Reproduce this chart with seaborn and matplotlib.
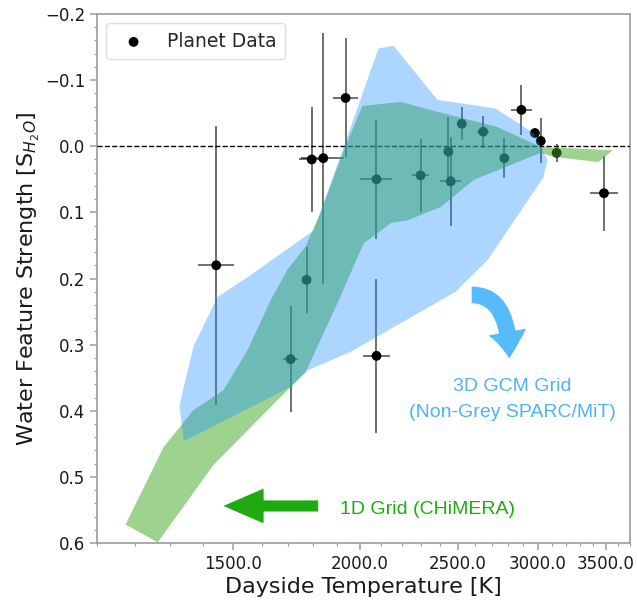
import numpy as np
import pandas as pd
import matplotlib
matplotlib.use("Agg")
import matplotlib.pyplot as plt
import seaborn as sns
from matplotlib.patches import FancyArrowPatch
from matplotlib.ticker import MultipleLocator, AutoMinorLocator, NullFormatter

# ---------------- data ----------------
temps = [1443, 1709, 1772, 1793, 1841, 1937, 2078, 2078, 2297, 2447, 2460,
         2523, 2649, 2780, 2890, 2980, 3020, 3131, 3487]
strength = [0.180, 0.322, 0.202, 0.020, 0.018, -0.073, 0.050, 0.317, 0.044,
            0.008, 0.053, -0.034, -0.022, 0.018, -0.055, -0.020, -0.008,
            0.010, 0.071]
strength_err = [0.211, 0.080, 0.050, 0.080, 0.190, 0.090, 0.090, 0.116, 0.055,
                0.052, 0.067, 0.025, 0.024, 0.030, 0.038, 0.008, 0.034,
                0.014, 0.057]
temp_err = [60, 28, 20, 50, 90, 57, 75, 65, 43, 15, 60, 15, 36, 30, 70, 10,
            20, 15, 110]

# 3D GCM grid envelope (upper = top edge, lower = bottom edge)
gcm_upper_T = [1327, 1370, 1447, 1560, 1802, 1837, 1929, 2035, 2088, 2160,
               2388, 2517, 2725, 2971, 3067]
gcm_upper_S = [0.392, 0.303, 0.228, 0.195, 0.127, 0.0915, 0.001, -0.100,
               -0.148, -0.152, -0.070, -0.065, -0.057, -0.020, 0.021]
gcm_lower_T = [1327, 1340, 1709, 1776, 1959, 2488, 2676, 3039, 3067]
gcm_lower_S = [0.392, 0.446, 0.364, 0.339, 0.311, 0.220, 0.172, 0.047, 0.021]

# 1D CHiMERA grid envelope
chimera_upper_T = [1174, 1280, 1370, 1467, 1550, 1633, 1696, 1768, 1830,
                   1929, 2013, 2195, 2388, 2738, 3020, 3557]
chimera_upper_S = [0.572, 0.455, 0.399, 0.369, 0.308, 0.233, 0.187, 0.152,
                   0.100, 0.006, -0.061, -0.067, -0.052, -0.029, 0.001, 0.006]
chimera_lower_T = [1174, 1263, 1434, 1709, 1768, 1907, 2018, 2148, 2230,
                   2405, 2592, 3020, 3110, 3444, 3557]
chimera_lower_S = [0.572, 0.599, 0.482, 0.364, 0.342, 0.233, 0.147, 0.116,
                   0.112, 0.092, 0.051, 0.010, 0.016, 0.024, 0.006]

x_ticks = [1500, 2000, 2500, 3000, 3500]
x_tick_labels = ["1500.0", "2000.0", "2500.0", "3000.0", "3500.0"]
y_ticks = [-0.2, -0.1, 0.0, 0.1, 0.2, 0.3, 0.4, 0.5, 0.6]

# ---------------- style ----------------
sns.set_theme(style="ticks")
plt.rcParams["font.family"] = ["DejaVu Sans"]
spine_col = "#9c9c9c"

fig = plt.figure(figsize=(6.37, 6.01), dpi=100)
ax = fig.add_axes([97 / 637, 58 / 601, 533 / 637, 529 / 601])

df = pd.DataFrame({"T": temps, "S": strength})

ax.errorbar(temps, strength, yerr=strength_err, xerr=temp_err, fmt="none",
            ecolor="black", elinewidth=1.1, alpha=0.72, capsize=0, zorder=2)
sns.scatterplot(data=df, x="T", y="S", ax=ax, color="black", s=50,
                edgecolor="none", linewidth=0, label="Planet Data", zorder=2.5)
ax.axhline(0.0, color="black", lw=1.0, ls="--", zorder=2.6)

ax.fill(chimera_upper_T + chimera_lower_T[::-1],
        chimera_upper_S + chimera_lower_S[::-1],
        color=(0.24, 0.66, 0.12), alpha=0.5, lw=0, zorder=3)
ax.fill(gcm_upper_T + gcm_lower_T[::-1],
        gcm_upper_S + gcm_lower_S[::-1],
        color="#1E90FF", alpha=0.37, lw=0, zorder=4)

ax.set_xscale("log")
ax.set_xlim(1100, 3700)
ax.set_xticks(x_ticks)
ax.set_xticklabels(x_tick_labels)
ax.xaxis.set_minor_locator(MultipleLocator(100))
ax.xaxis.set_minor_formatter(NullFormatter())
ax.set_ylim(0.6, -0.2)
ax.set_yticks(y_ticks)
ax.yaxis.set_minor_locator(AutoMinorLocator(5))

for sp in ax.spines.values():
    sp.set_visible(True)
    sp.set_color(spine_col)
    sp.set_linewidth(1.2)
ax.tick_params(which="major", length=5, width=1.1, color=spine_col,
               labelsize=12, labelcolor="#1a1a1a", direction="out")
ax.tick_params(which="minor", length=2.5, width=0.9, color=spine_col)

ax.set_xlabel("Dayside Temperature [K]", fontsize=16, color="#1a1a1a",
              labelpad=3)
ax.set_ylabel(r"Water Feature Strength [S$_{H_2O}$]", fontsize=16,
              color="#1a1a1a", labelpad=2)

leg = ax.legend(loc="upper left", fontsize=13.5, frameon=True,
                handletextpad=0.8, borderpad=0.45)
leg.get_frame().set_edgecolor("#d8d8d8")
leg.set_zorder(10)

# annotations
ann_font = ["Liberation Sans", "DejaVu Sans"]
green_col = "#1fab10"
blue_col = "#55bbfa"
ax.add_patch(FancyArrowPatch((0.415, 0.070), (0.237, 0.070),
                             transform=ax.transAxes,
                             arrowstyle="simple,head_length=29,head_width=25,tail_width=8",
                             color=green_col, lw=0, shrinkA=0, shrinkB=0,
                             zorder=6))
ax.text(0.456, 0.0548, "1D Grid (CHiMERA)", transform=ax.transAxes,
        fontsize=14, color=green_col, family=ann_font, ha="left",
        va="baseline", zorder=6)

ax.add_patch(FancyArrowPatch((0.703, 0.469), (0.7735, 0.349),
                             transform=ax.transAxes,
                             connectionstyle="angle3,angleA=0,angleB=90",
                             arrowstyle="simple,head_length=19,head_width=27.5,tail_width=12",
                             color=blue_col, lw=0, shrinkA=0, shrinkB=0,
                             zorder=6))
ax.text(0.7786, 0.288, "3D GCM Grid", transform=ax.transAxes, fontsize=14,
        color="#4fb2f2", family=ann_font, ha="center", va="baseline", zorder=6)
ax.text(0.7786, 0.2388, "(Non-Grey SPARC/MiT)", transform=ax.transAxes,
        fontsize=14, color="#4fb2f2", family=ann_font, ha="center",
        va="baseline", zorder=6)

fig.savefig("out.png", dpi=100)
